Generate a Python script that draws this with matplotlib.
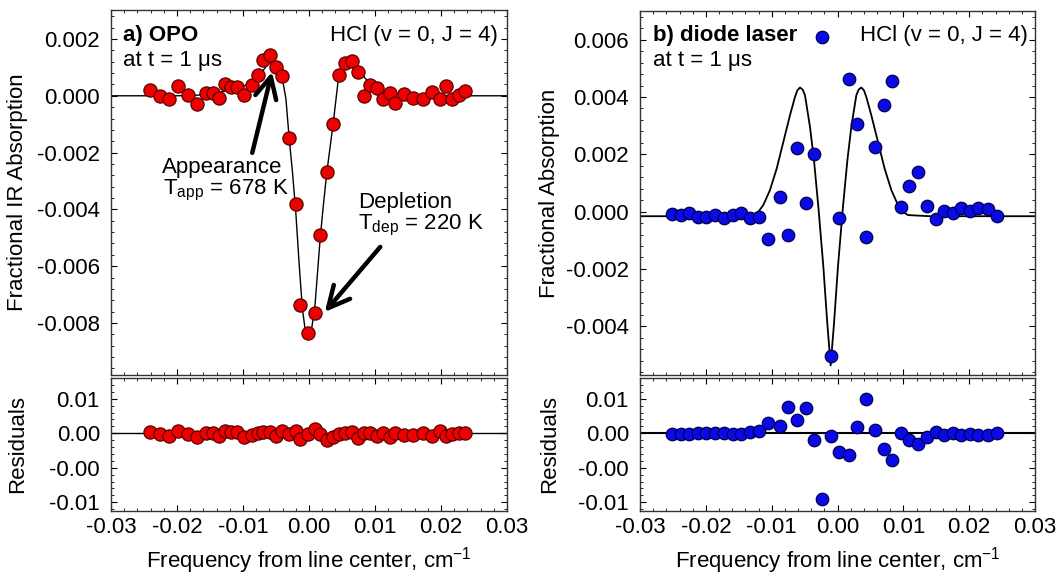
import matplotlib
matplotlib.use("Agg")
import matplotlib.pyplot as plt
from matplotlib.ticker import MultipleLocator, FormatStrFormatter

plt.rcParams['font.family'] = ['Liberation Sans', 'DejaVu Sans']
plt.rcParams['font.size'] = 16
plt.rcParams['mathtext.fontset'] = 'custom'
plt.rcParams['mathtext.rm'] = 'Liberation Sans'
plt.rcParams['mathtext.it'] = 'Liberation Sans:italic'
plt.rcParams['axes.unicode_minus'] = False


# a) OPO measurement, HCl (v=0, J=4) at t = 1 us
opo_freq = [-0.0241, -0.0226, -0.0212, -0.0198, -0.0183, -0.0169, -0.0156, -0.0145,
            -0.0137, -0.0127, -0.0118, -0.0109, -0.0099, -0.0087, -0.0078, -0.0069,
            -0.0059, -0.0050, -0.0041, -0.0030, -0.0020, -0.0013, -0.0002, 0.0009,
            0.0017, 0.0027, 0.0037, 0.0045, 0.0054, 0.0065, 0.0074, 0.0083,
            0.0093, 0.0103, 0.0112, 0.0122, 0.0131, 0.0144, 0.0158, 0.0172,
            0.0187, 0.0199, 0.0208, 0.0216, 0.0227, 0.0236]
opo_absorb = [0.00020, -0.00001, -0.00012, 0.00036, 0.00001, -0.00029, 0.00009, 0.00009,
              -0.00009, 0.00040, 0.00030, 0.00030, 0.00002, 0.00037, 0.00073, 0.00126,
              0.00143, 0.00103, 0.00070, -0.00147, -0.00381, -0.00737, -0.00836, -0.00766,
              -0.00491, -0.00267, -0.00101, 0.00073, 0.00117, 0.00123, 0.00085, -0.00001,
              0.00038, 0.00026, -0.00011, 0.00009, -0.00024, 0.00006, -0.00007, -0.00012,
              0.00015, -0.00011, 0.00035, -0.00011, 0.00003, 0.00017]
opo_resid = [0.00015, -0.00015, -0.00034, 0.00029, -0.00010, -0.00048, 0.00005, 0.0,
             -0.00039, 0.00029, 0.00019, 0.00015, -0.00048, -0.00024, 0.0, 0.00024,
             0.00019, -0.00039, 0.00034, -0.00010, 0.00039, -0.00077, -0.00015, 0.00063,
             -0.00015, -0.00097, -0.00048, -0.00015, 0.00010, 0.00015, -0.00072, 0.0,
             0.00010, -0.00034, 0.0, -0.00048, 0.0, -0.00024, -0.00024, 0.00010,
             -0.00039, 0.00039, -0.00034, -0.00010, 0.00010, 0.00010]

# fitted line
opo_fit_freq = [-0.030, -0.020, -0.016, -0.014, -0.012, -0.010, -0.009, -0.008, -0.007,
                -0.0065, -0.006, -0.0056, -0.005, -0.0045, -0.0040, -0.0035, -0.0030,
                -0.0025, -0.0020, -0.0015, -0.0010, -0.0006, -0.0001, 0.0004, 0.0009,
                0.0013, 0.0017, 0.0022, 0.0027, 0.0032, 0.0037, 0.0041, 0.0045, 0.0050,
                0.0056, 0.0062, 0.0068, 0.0075, 0.0085, 0.0095, 0.0105, 0.012, 0.014,
                0.016, 0.020, 0.030]
opo_fit = [0.0, 0.0, 0.00003, 0.0001, 0.0002, 0.00033, 0.00045, 0.00064, 0.00088,
           0.00103, 0.00115, 0.00120, 0.00112, 0.00088, 0.00055, -0.0001, -0.0015,
           -0.0027, -0.0041, -0.0059, -0.0075, -0.0082, -0.00853, -0.0082, -0.0074,
           -0.0062, -0.0050, -0.0038, -0.0027, -0.0018, -0.0009, -0.0001, 0.0007, 0.00112,
           0.00125, 0.00124, 0.00112, 0.00092, 0.00062, 0.00040, 0.00025, 0.00012, 0.00004,
           0.00001, 0.0, 0.0]

# b) diode laser measurement
diode_freq = [-0.0252, -0.0238, -0.0225, -0.0212, -0.0199, -0.0186, -0.0172, -0.0159,
              -0.0146, -0.0133, -0.0120, -0.0106, -0.0088, -0.0075, -0.0062, -0.0048,
              -0.0036, -0.0023, -0.0010, 0.0003, 0.0017, 0.0030, 0.0043, 0.0057,
              0.0070, 0.0083, 0.0096, 0.0109, 0.0122, 0.0136, 0.0149, 0.0162,
              0.0175, 0.0188, 0.0201, 0.0214, 0.0228, 0.0242]
diode_absorb = [-0.00009, -0.00012, -0.00004, -0.00018, -0.00018, -0.00012, -0.00022, -0.00012,
                -0.00004, -0.00022, -0.00020, -0.00094, 0.00052, -0.00082, 0.00222, 0.00031,
                0.00200, 0.00609, -0.00502, -0.00022, 0.00464, 0.00307, -0.00090, 0.00226,
                0.00371, 0.00455, 0.00015, 0.00090, 0.00139, 0.00020, -0.00024, 0.00002,
                -0.00006, 0.00011, 0.00003, 0.00011, 0.00008, -0.00015]
diode_resid = [-0.00015, -0.00005, -0.00015, 0.00010, 0.00010, 0.0, 0.00010, -0.00005,
               -0.00005, 0.00019, 0.00029, 0.00145, 0.00106, 0.00386, 0.00193, 0.00362,
               -0.00101, -0.00957, -0.00039, -0.00271, -0.00319, 0.00097, 0.00502, 0.00053,
               -0.00222, -0.00391, 0.00010, -0.00092, -0.00150, -0.00048, 0.00024, -0.00019,
               0.0, -0.00029, -0.00015, -0.00029, -0.00024, 0.0]

diode_fit_freq = [-0.030, -0.0160, -0.01279, -0.01203, -0.01127, -0.01026, -0.00924,
                  -0.00823, -0.00722, -0.00646, -0.0061, -0.00570, -0.0053, -0.00494,
                  -0.00418, -0.00357, -0.00291, -0.00215, -0.00155, -0.00104, -0.00053,
                  0.00007, 0.00083, 0.00150, 0.00210, 0.00286, 0.00322, 0.00362, 0.00402,
                  0.00438, 0.00514, 0.00615, 0.00716, 0.00818, 0.00919, 0.00995, 0.01071,
                  0.0140, 0.030]
diode_fit = [-0.00016, -0.00016, -0.00012, -0.00001, 0.00023, 0.00075, 0.00150,
             0.00243, 0.00336, 0.00400, 0.00423, 0.00433, 0.00426, 0.00406,
             0.00296, 0.00179, 0.00017, -0.00192, -0.00390, -0.00537, -0.00390,
             -0.00192, 0.00017, 0.00179, 0.00296, 0.00406, 0.00426, 0.00433, 0.00423,
             0.00400, 0.00336, 0.00243, 0.00150, 0.00075, 0.00023, -0.00001, -0.00012,
             -0.00016, -0.00016]

resid_ticks = [0.005, 0.0, -0.005, -0.01]
resid_labels = ['0.01', '0.00', '-0.00', '-0.01']

W, H = 1059, 581


def px_axes(fig, left, top, right, bottom):
    return fig.add_axes([left / W, 1 - bottom / H, (right - left) / W, (bottom - top) / H])


def style_axes(ax):
    for s in ax.spines.values():
        s.set_linewidth(1.0)
        s.set_color('#333333')
    ax.tick_params(which='both', direction='in', top=True, right=True, labelsize=16)
    ax.tick_params(which='major', length=4, width=0.8, pad=8)
    ax.tick_params(which='minor', length=2, width=0.6)
    ax.tick_params(axis='x', pad=5)
    ax.set_xlim(-0.03, 0.03)
    ax.xaxis.set_major_locator(MultipleLocator(0.01))
    ax.xaxis.set_minor_locator(MultipleLocator(0.002))


fig = plt.figure(figsize=(W / 100, H / 100), dpi=100)

red = dict(marker='o', ls='none', ms=9.5, mfc='#ee0000', mec='#5a0000', mew=0.9, zorder=3)
blue = dict(marker='o', ls='none', ms=9.0, mfc='#0a0ae6', mec='#000050', mew=0.9, zorder=3)

# ---- a) OPO
ax1 = px_axes(fig, 111, 10, 507, 375)
style_axes(ax1)
ax1.plot(opo_fit_freq, opo_fit, color='k', lw=1.0, zorder=2)
ax1.plot(opo_freq, opo_absorb, **red)
ax1.set_ylim(-0.00983, 0.00302)
ax1.yaxis.set_major_locator(MultipleLocator(0.002))
ax1.yaxis.set_minor_locator(MultipleLocator(0.0004))
ax1.yaxis.set_major_formatter(FormatStrFormatter('%.3f'))
ax1.set_xticklabels([])
ax1.set_ylabel('Fractional IR Absorption', fontsize=16)
ax1.yaxis.set_label_coords(-0.21, 0.5)
ax1.text(0.030, 0.915, 'a) OPO', transform=ax1.transAxes, fontsize=16, fontweight='bold')
ax1.text(0.030, 0.847, 'at t = 1 μs', transform=ax1.transAxes, fontsize=16)
ax1.text(0.977, 0.915, 'HCl (v = 0, J = 4)', transform=ax1.transAxes, fontsize=16, ha='right')

ax1.text(-0.0223, -0.00272, 'Appearance', fontsize=16)
ax1.text(-0.0221, -0.00346, r'T$_{\mathrm{app}}$ = 678 K', fontsize=16)
ax1.text(0.0074, -0.00395, 'Depletion', fontsize=16)
ax1.text(0.0074, -0.00469, r'T$_{\mathrm{dep}}$ = 220 K', fontsize=16)
arrow = dict(arrowstyle='->,head_length=0.7,head_width=0.35', lw=3.2, color='k',
             shrinkA=0, shrinkB=0, mutation_scale=22)
ax1.annotate('', xy=(-0.0056, 0.00084), xytext=(-0.0086, -0.00201), arrowprops=arrow)
ax1.annotate('', xy=(0.0024, -0.00761), xytext=(0.0108, -0.00532), arrowprops=arrow)

ax1r = px_axes(fig, 111, 378, 507, 510.5)
style_axes(ax1r)
ax1r.axhline(0, color='k', lw=1.0, zorder=2)
ax1r.plot(opo_freq, opo_resid, **red)
ax1r.set_ylim(-0.0112, 0.008)
ax1r.set_yticks(resid_ticks, labels=resid_labels)
ax1r.yaxis.set_minor_locator(MultipleLocator(0.001))
ax1r.xaxis.set_major_formatter(FormatStrFormatter('%.2f'))
ax1r.set_ylabel('Residuals', fontsize=16)
ax1r.yaxis.set_label_coords(-0.21, 0.5)
ax1r.set_xlabel('Frequency from line center, cm$^{-1}$', fontsize=16, labelpad=5)

# ---- b) diode laser
ax2 = px_axes(fig, 640, 11, 1035, 375)
style_axes(ax2)
ax2.plot(diode_fit_freq, diode_fit, color='k', lw=1.3, zorder=2)
ax2.plot(diode_freq, diode_absorb, **blue)
ax2.set_ylim(-0.0057, 0.007)
ax2.yaxis.set_major_locator(MultipleLocator(0.002))
ax2.yaxis.set_minor_locator(MultipleLocator(0.0004))
ax2.yaxis.set_major_formatter(FormatStrFormatter('%.3f'))
ax2.set_xticklabels([])
ax2.set_ylabel('Fractional Absorption', fontsize=16)
ax2.yaxis.set_label_coords(-0.203, 0.5)
ax2.text(0.033, 0.918, 'b) diode laser', transform=ax2.transAxes, fontsize=16, fontweight='bold')
ax2.text(0.033, 0.849, 'at t = 1 μs', transform=ax2.transAxes, fontsize=16)
ax2.text(0.982, 0.918, 'HCl (v = 0, J = 4)', transform=ax2.transAxes, fontsize=16, ha='right')

ax2r = px_axes(fig, 640, 378, 1035, 510.5)
style_axes(ax2r)
ax2r.axhline(0, color='k', lw=1.5, zorder=2)
ax2r.plot(diode_freq, diode_resid, **blue)
ax2r.set_ylim(-0.0112, 0.008)
ax2r.set_yticks(resid_ticks, labels=resid_labels)
ax2r.yaxis.set_minor_locator(MultipleLocator(0.001))
ax2r.xaxis.set_major_formatter(FormatStrFormatter('%.2f'))
ax2r.set_ylabel('Residuals', fontsize=16)
ax2r.yaxis.set_label_coords(-0.203, 0.5)
ax2r.set_xlabel('Frequency from line center, cm$^{-1}$', fontsize=16, labelpad=5)

fig.savefig('out.png', dpi=100)
